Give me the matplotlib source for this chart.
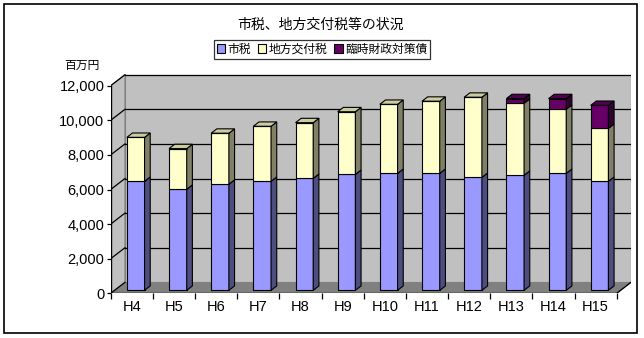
import matplotlib
matplotlib.use("Agg")
import matplotlib.pyplot as plt
from matplotlib.patches import Polygon, Rectangle, Patch
import numpy as np

# ---- data (百万円) ----
years = ["H4", "H5", "H6", "H7", "H8", "H9", "H10", "H11", "H12", "H13", "H14", "H15"]
shizei = [6300, 5840, 6130, 6300, 6470, 6700, 6760, 6760, 6530, 6650, 6760, 6300]
chiho_kofuzei = [2540, 2350, 2950, 3180, 3220, 3620, 3990, 4170, 4630, 4160, 3700, 3060]
rinji_zaisei = [0, 0, 0, 0, 0, 0, 0, 0, 0, 270, 620, 1330]
yticks = [0, 2000, 4000, 6000, 8000, 10000, 12000]

series = [
    ("市税", shizei, "#9999FF", "#4D4D80", "#7A7ACC"),
    ("地方交付税", chiho_kofuzei, "#FFFFCC", "#808066", "#CCCCA3"),
    ("臨時財政対策債", rinji_zaisei, "#660066", "#330033", "#520052"),
]

JP = ["Noto Sans CJK JP", "DejaVu Sans"]
NUM = ["Liberation Sans", "DejaVu Sans"]

W, H = 644, 338
fig = plt.figure(figsize=(W / 100, H / 100), dpi=100)
fig.patch.set_facecolor("white")

# pseudo-3D geometry (pixels)
cat_px = 42.17          # width of one category on the front plane
val_px = 0.0173         # pixels per unit value
depth_x, depth_y = 14.3, 11.0
L, R, B, T = 110.7, 631.0, 293.3, 74.0

ax = fig.add_axes([L / W, 1 - B / H, (R - L) / W, (B - T) / H])
ax.set_xlim(-0.5, -0.5 + (R - L) / cat_px)
ax.set_ylim(0, (B - T) / val_px)
ax.set_facecolor("none")
for s in ax.spines.values():
    s.set_visible(False)

DX = depth_x / cat_px
DY = depth_y / val_px
n = len(years)
x0, x1 = -0.5, n - 0.5
ymax = yticks[-1]

# walls and floor
ax.add_patch(Polygon([(x0, 0), (x0 + DX, DY), (x0 + DX, ymax + DY), (x0, ymax)],
                     closed=True, facecolor="#C0C0C0", edgecolor="#808080", lw=0.8, zorder=1))
ax.add_patch(Polygon([(x0 + DX, DY), (x1 + DX, DY), (x1 + DX, ymax + DY), (x0 + DX, ymax + DY)],
                     closed=True, facecolor="#C0C0C0", edgecolor="#808080", lw=0.8, zorder=1))
ax.add_patch(Polygon([(x0, 0), (x1, 0), (x1 + DX, DY), (x0 + DX, DY)],
                     closed=True, facecolor="#808080", edgecolor="none", zorder=1.5))

# gridlines on back wall and side wall
for v in yticks:
    if v > 0:
        ax.plot([x0 + DX, x1 + DX], [v + DY, v + DY], color="black", lw=0.9, zorder=2)
    ax.plot([x0, x0 + DX], [v, v + DY], color="black", lw=0.9, zorder=2)

# axis lines
ax.plot([x0, x0], [0, ymax], color="black", lw=1.0, zorder=6)
ax.plot([x0, x1], [0, 0], color="black", lw=1.0, zorder=6)
ax.plot([x1, x1 + DX], [0, DY], color="black", lw=1.0, zorder=6)

# stacked 3D bars
f0, f1 = 3.0 / 11.0, 0.67
bw = 0.42
xs = np.arange(n)
bottoms = np.zeros(n)
tops_idx = np.zeros(n, dtype=int)
for k, (_, vals, *_c) in enumerate(series):
    for i, v in enumerate(vals):
        if v > 0:
            tops_idx[i] = k
for k, (name, vals, front, side, top) in enumerate(series):
    vals = np.asarray(vals, dtype=float)
    fx = xs + f0 * DX
    fy = bottoms + f0 * DY
    ax.bar(fx, vals, bottom=fy, width=bw, color=front, edgecolor="black",
           linewidth=0.8, zorder=3 + 0.1 * k)
    for i in range(n):
        if vals[i] <= 0:
            continue
        xr = fx[i] + bw / 2
        xl = fx[i] - bw / 2
        yb = fy[i]
        yt = fy[i] + vals[i]
        ddx, ddy = (f1 - f0) * DX, (f1 - f0) * DY
        ax.add_patch(Polygon([(xr, yb), (xr + ddx, yb + ddy), (xr + ddx, yt + ddy), (xr, yt)],
                             closed=True, facecolor=side, edgecolor="black", lw=0.8,
                             zorder=3 + 0.1 * k))
        if tops_idx[i] == k:
            ax.add_patch(Polygon([(xl, yt), (xr, yt), (xr + ddx, yt + ddy), (xl + ddx, yt + ddy)],
                                 closed=True, facecolor=top, edgecolor="black", lw=0.8,
                                 zorder=3 + 0.1 * k))
    bottoms = bottoms + vals

# ticks and labels
ax.set_yticks(yticks)
ax.set_yticklabels([f"{v:,}" for v in yticks], fontfamily=NUM, fontsize=10.5)
ax.tick_params(axis="y", direction="out", length=3, width=0.9, pad=1.5)
ax.set_xticks(xs)
ax.set_xticklabels(years, fontfamily=NUM, fontsize=10.5)
ax.set_xticks(np.arange(n + 1) - 0.5, minor=True)
ax.tick_params(axis="x", which="major", length=0, pad=5)
ax.tick_params(axis="x", which="minor", direction="out", length=4, width=0.9)

# title, unit label, legend
fig.text(320 / W, 1 - 25 / H, "市税、地方交付税等の状況", ha="center", va="center",
         fontfamily=JP, fontsize=10)
fig.text(82 / W, 1 - 65 / H, "百万円", ha="center", va="center",
         fontfamily=JP, fontsize=8.5)
handles = [Patch(facecolor=c[2], edgecolor="black", linewidth=0.8) for c in series]
leg = fig.legend(handles, [c[0] for c in series], loc="center",
                 bbox_to_anchor=(322 / W, 1 - 49.2 / H), ncol=3,
                 prop={"family": JP, "size": 8.5}, frameon=True, fancybox=False,
                 edgecolor="black", handlelength=0.7, handleheight=0.7,
                 handletextpad=0.2, columnspacing=0.6, borderpad=0.25,
                 borderaxespad=0)
leg.get_frame().set_linewidth(0.9)

# outer frame
fig.patches.append(Rectangle((4 / W, 1 - 333 / H), 633 / W, 329 / H,
                             transform=fig.transFigure, fill=False,
                             edgecolor="black", lw=1.2))

fig.savefig("out.png", dpi=100)
